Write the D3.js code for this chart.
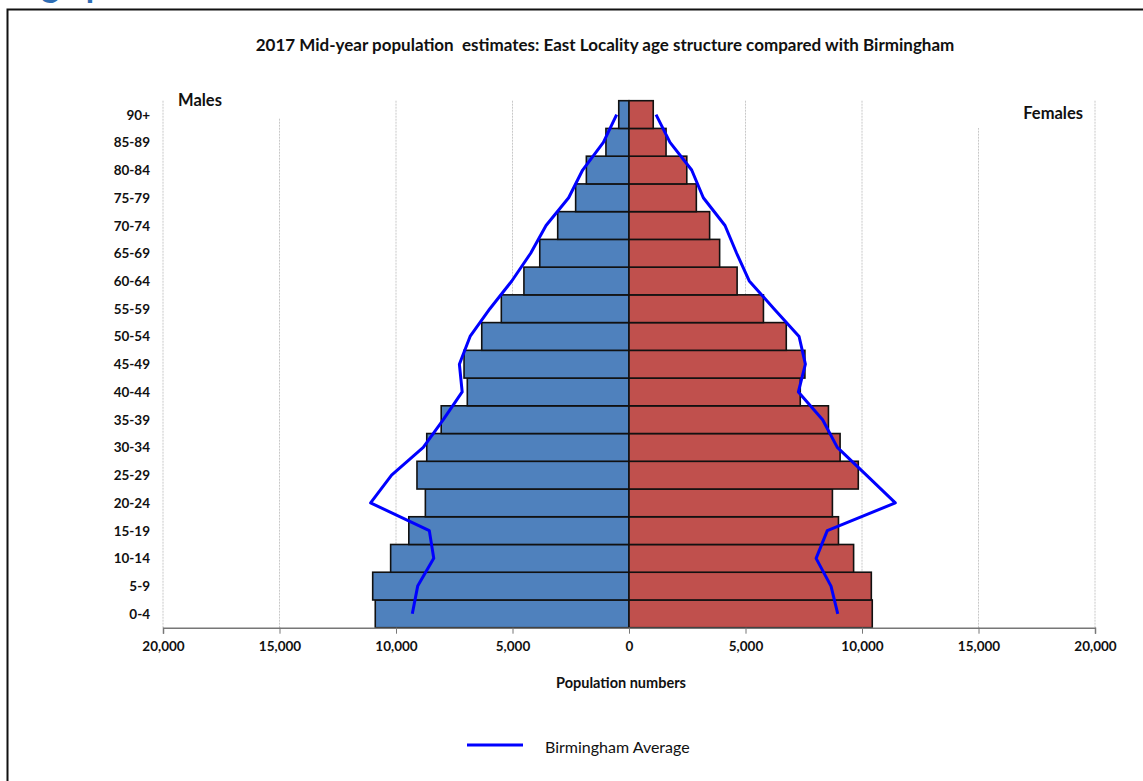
<!DOCTYPE html>
<html>
<head>
<meta charset="utf-8">
<script src="https://cdn.jsdelivr.net/npm/d3@7"></script>
<style>
  body { margin: 0; background: #fff; }
  svg { display: block; font-family: Lato, 'Open Sans', sans-serif; }
</style>
</head>
<body>
<svg id="chart"></svg>
<script>
// age groups, youngest first
let ageGroups = ['0-4', '5-9', '10-14', '15-19', '20-24', '25-29', '30-34', '35-39', '40-44', '45-49',
  '50-54', '55-59', '60-64', '65-69', '70-74', '75-79', '80-84', '85-89', '90+']
let males = [10890, 11000, 10230, 9450, 8740, 9100, 8680, 8060, 6940, 7080,
  6320, 5480, 4510, 3830, 3060, 2290, 1830, 990, 440]
let females = [10440, 10400, 9640, 8990, 8730, 9840, 9060, 8560, 7350, 7550,
  6750, 5770, 4640, 3890, 3460, 2890, 2480, 1590, 1040]
let bhamMales = [9300, 9070, 8380, 8570, 11090, 10190, 8830, 7970, 7160, 7280,
  6820, 5970, 5030, 4220, 3560, 2590, 1990, 1100, 530]
let bhamFemales = [8960, 8670, 8030, 8510, 11430, 10190, 8940, 8310, 7270, 7570,
  7300, 6220, 5160, 4620, 4120, 3190, 2690, 1760, 1160]
let tickValues = [-20000, -15000, -10000, -5000, 0, 5000, 10000, 15000, 20000]

let width = 1143
let height = 781
let svg = d3.select('#chart').attr('width', width).attr('height', height)

let xScale = d3.scaleLinear().domain([-20000, 20000]).range([163, 1095])
let yScale = d3.scaleBand().domain(ageGroups.slice().reverse()).range([100.7, 627.7]).padding(0)

// heading cut off above the frame (as in the source page)
svg.append('text')
  .attr('x', 18).attr('y', -3)
  .attr('font-size', 34).attr('font-weight', 'bold')
  .attr('fill', '#2e6db4')
  .text('Age profile')

// outer frame
svg.append('rect')
  .attr('x', 7.5).attr('y', 9.5)
  .attr('width', 1200).attr('height', 900)
  .attr('fill', 'none').attr('stroke', '#111').attr('stroke-width', 2)

svg.append('text')
  .attr('x', 605).attr('y', 51)
  .attr('text-anchor', 'middle')
  .attr('font-size', 17).attr('font-weight', 'bold')
  .attr('fill', '#111')
  .style('white-space', 'pre')
  .text('2017 Mid-year population  estimates: East Locality age structure compared with Birmingham')

// grid lines
svg.append('g')
  .selectAll('line')
  .data(tickValues.filter(d => d !== 0))
  .enter()
  .append('line')
  .attr('x1', d => xScale(d)).attr('x2', d => xScale(d))
  .attr('y1', 100.7).attr('y2', 627.7)
  .attr('stroke', '#c8c8c8').attr('stroke-width', 1)
  .attr('stroke-dasharray', '2,1')

// side labels with white box behind
svg.append('rect').attr('x', 172).attr('y', 88).attr('width', 118).attr('height', 30).attr('fill', '#fff')
svg.append('rect').attr('x', 965).attr('y', 100).attr('width', 124).attr('height', 28).attr('fill', '#fff')
svg.append('text').attr('x', 178).attr('y', 106)
  .attr('font-size', 16.5).attr('font-weight', 'bold').attr('fill', '#111').text('Males')
svg.append('text').attr('x', 1083).attr('y', 119).attr('text-anchor', 'end')
  .attr('font-size', 16.5).attr('font-weight', 'bold').attr('fill', '#111').text('Females')

// bars
svg.append('g')
  .selectAll('rect')
  .data(males)
  .enter()
  .append('rect')
  .attr('x', d => xScale(-d))
  .attr('y', (d, i) => yScale(ageGroups[i]))
  .attr('width', d => xScale(0) - xScale(-d))
  .attr('height', yScale.bandwidth())
  .attr('fill', '#4f81bd').attr('stroke', '#111').attr('stroke-width', 1.6)

svg.append('g')
  .selectAll('rect')
  .data(females)
  .enter()
  .append('rect')
  .attr('x', xScale(0))
  .attr('y', (d, i) => yScale(ageGroups[i]))
  .attr('width', d => xScale(d) - xScale(0))
  .attr('height', yScale.bandwidth())
  .attr('fill', '#c0504d').attr('stroke', '#111').attr('stroke-width', 1.6)

// x axis
let xAxis = d3.axisBottom(xScale)
  .tickValues(tickValues)
  .tickSize(6)
  .tickFormat(d => d3.format(',')(Math.abs(d)))
let axisG = svg.append('g')
  .attr('transform', 'translate(0,627.7)')
  .call(xAxis)
axisG.select('.domain').attr('stroke', '#777').attr('stroke-width', 1.5)
axisG.selectAll('.tick line').attr('stroke', '#777')
axisG.selectAll('.tick text')
  .attr('y', 14)
  .attr('font-family', 'Lato, sans-serif')
  .attr('font-size', 13.5).attr('font-weight', 'bold').attr('fill', '#111')

// y labels
svg.append('g')
  .selectAll('text')
  .data(ageGroups)
  .enter()
  .append('text')
  .attr('x', 150)
  .attr('y', d => yScale(d) + yScale.bandwidth() / 2 + 5)
  .attr('text-anchor', 'end')
  .attr('font-size', 13.5).attr('font-weight', 'bold').attr('fill', '#111')
  .text(d => d)

// Birmingham average lines
let maleLine = d3.line()
  .x(d => xScale(-d))
  .y((d, i) => yScale(ageGroups[i]) + yScale.bandwidth() / 2)
let femaleLine = d3.line()
  .x(d => xScale(d))
  .y((d, i) => yScale(ageGroups[i]) + yScale.bandwidth() / 2)
svg.append('path').datum(bhamMales).attr('d', maleLine)
  .attr('fill', 'none').attr('stroke', '#0000ff').attr('stroke-width', 3).attr('stroke-linejoin', 'round')
svg.append('path').datum(bhamFemales).attr('d', femaleLine)
  .attr('fill', 'none').attr('stroke', '#0000ff').attr('stroke-width', 3).attr('stroke-linejoin', 'round')

svg.append('text').attr('x', 621).attr('y', 688).attr('text-anchor', 'middle')
  .attr('font-size', 14.5).attr('font-weight', 'bold').attr('fill', '#111').text('Population numbers')

// legend
svg.append('line').attr('x1', 467).attr('x2', 523).attr('y1', 745).attr('y2', 745)
  .attr('stroke', '#0000ff').attr('stroke-width', 3)
svg.append('text').attr('x', 545).attr('y', 753)
  .attr('font-size', 16).attr('fill', '#111').text('Birmingham Average')
</script>
</body>
</html>
